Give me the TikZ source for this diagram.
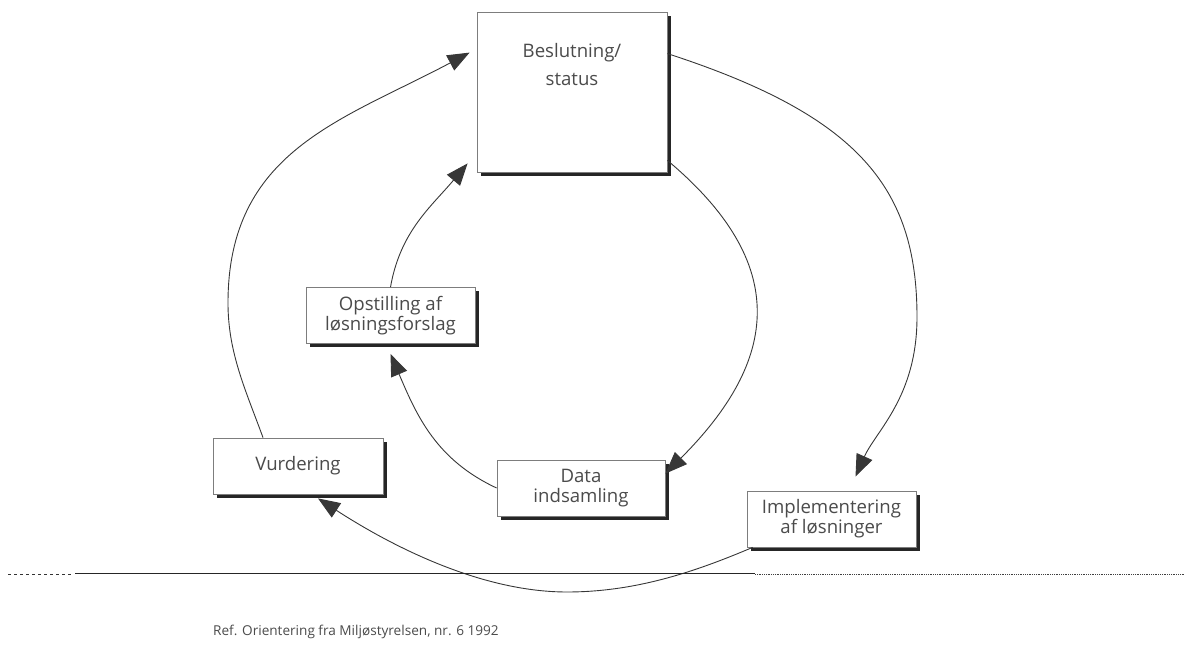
\documentclass[tikz,border=0pt]{standalone}
\usepackage{fontspec}
\setmainfont{Open Sans}
\usetikzlibrary{positioning,arrows.meta,shadows,calc}
\definecolor{boxgray}{RGB}{125,125,125}
\definecolor{txtgray}{RGB}{75,75,75}
\definecolor{linegray}{RGB}{55,55,55}
\newcommand{\boxtxt}{\fontsize{18.6}{20}\selectfont}

\begin{document}
\begin{tikzpicture}[x=1pt,y=1pt,
  box/.style={draw=boxgray,line width=0.8pt,fill=white,minimum width=169pt,minimum height=56pt,
    align=center,text=txtgray,font=\boxtxt,inner sep=0pt,
    drop shadow={shadow xshift=4pt,shadow yshift=-4pt,fill=black!85,opacity=1}},
  flow/.style={linegray,line width=0.9pt,-{Triangle[length=22pt,width=17pt]}}]
\useasboundingbox (0,0) rectangle (1184,648);

% Boxes
\node[box,minimum width=190pt,minimum height=160pt] (bes) at (572,556) {};
\node[anchor=north,align=center,text=txtgray,font=\boxtxt] (bestxt) at ([yshift=-28pt]bes.north) {Beslutning/\\[8pt]status};
\node[box] (ops) at (390.5,332.5) {Opstilling af\\løsningsforslag};
\node[box,minimum width=170pt] (vur) at (298,182) {Vurdering};
\node[box,minimum width=168pt] (dat) at (581,160) {Data\\indsamling};
\node[box] (imp) at (831.5,129) {Implementering\\af løsninger};

% Waypoints of the big arcs
\coordinate (ro) at (917,331);
\coordinate (lo) at (228,345);
\coordinate (bo) at (567,56);

% Inner ring
\draw[flow] ([yshift=12pt]bes.south east) .. controls +(-40:161) and +(45:161) .. ([yshift=-14pt]dat.north east);
\draw[flow] (dat.west) to[out=155,in=-67] ([yshift=-10pt]ops.south);
\draw[flow] (ops.north) to[out=80,in=-130] ([shift={(-9pt,9pt)}]bes.south west);

% Outer ring
\draw[flow] ([yshift=-42pt]bes.north east) .. controls +(-18:200) and +(90:130) .. (ro)
  .. controls +(-90:80) and +(66:50) .. ([shift={(24pt,14pt)}]imp.north);
\draw[flow] ([xshift=6pt]imp.south west) .. controls +(203:60) and +(0:70) .. (bo)
  .. controls +(180:90) and +(-33:80) .. ([shift={(20pt,-4pt)}]vur.south);
\draw[flow] ([xshift=-35pt]vur.north) .. controls +(110:50) and +(-90:50) .. (lo)
  .. controls +(90:152) and +(-152:145) .. ([shift={(-7pt,-41pt)}]bes.north west);

% Rule and reference
\draw[black!80,line width=0.8pt,dashed] (8,74) -- (72,74);
\draw[black!85,line width=1pt] (75,74) -- (755,74);
\draw[black!75,line width=0.8pt,densely dotted] (755,74) -- (1184,74);
\node[anchor=west,text=txtgray,font=\fontsize{13.6}{15}\selectfont,inner sep=0pt] (ref) at (213,16) {Ref. Orientering fra Miljøstyrelsen, nr. 6 1992};
\end{tikzpicture}
\end{document}
